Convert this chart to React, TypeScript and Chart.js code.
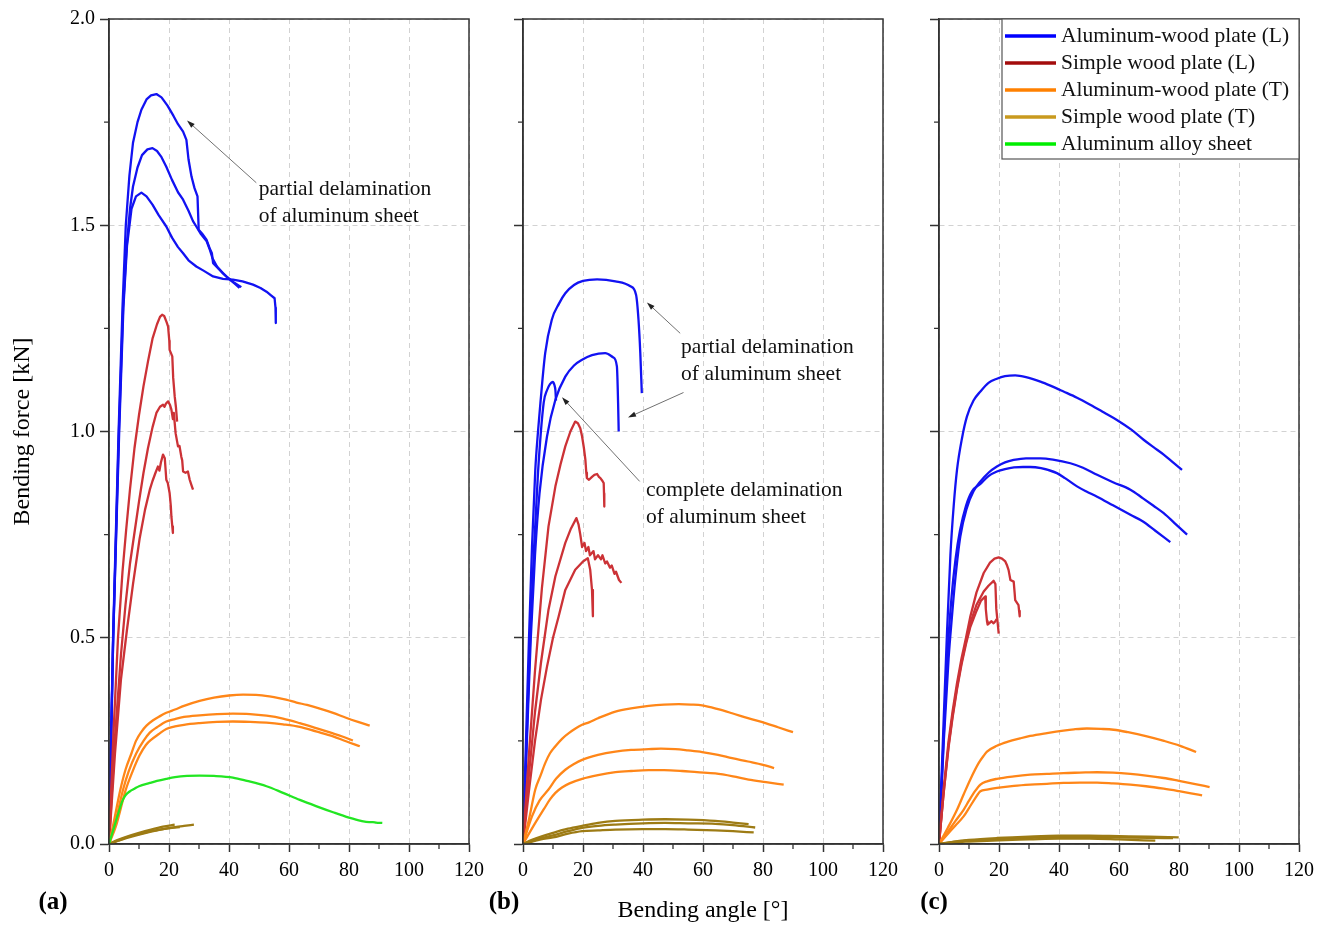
import React, { useEffect, useRef } from "react";
import { Chart, registerables } from "chart.js";
Chart.register(...registerables);

type Pt = [number, number];

// ---------- axes ----------
const X_TICKS = [0, 20, 40, 60, 80, 100, 120];
const X_TICK_LABELS = ["0", "20", "40", "60", "80", "100", "120"];
const X_MINOR = [10, 30, 50, 70, 90, 110];
const Y_TICKS = [0, 0.5, 1.0, 1.5, 2.0];
const Y_TICK_LABELS = ["0.0", "0.5", "1.0", "1.5", "2.0"];
const Y_MINOR = [0.25, 0.75, 1.25, 1.75];

const Y_TITLE = "Bending force [kN]";
const X_TITLE = "Bending angle [\u00b0]";
const PANEL_TAGS = ["(a)", "(b)", "(c)"];

const LEGEND_LABELS = [
  "Aluminum-wood plate (L)",
  "Simple wood plate (L)",
  "Aluminum-wood plate (T)",
  "Simple wood plate (T)",
  "Aluminum alloy sheet",
];
const LEGEND_COLORS = ["#0000ff", "#a30c0c", "#ff8000", "#c99a1e", "#00ee00"];

// ---------- panel (a) ----------
const a_awL_1: Pt[] = [[0,0],[1.35,0.5],[3.2,1.0],[4.5,1.3],[5.6,1.5],[6.8,1.62],[8,1.7],[9.5,1.75],[10.8,1.78],[12.5,1.805],[14,1.815],[15.8,1.818],[17.5,1.81],[19.5,1.79],[21.5,1.765],[23,1.745],[24.7,1.727],[25.8,1.707],[26.5,1.66],[27.5,1.618],[28.5,1.59],[29.5,1.57],[29.9,1.489],[31,1.48],[32.5,1.465],[33.5,1.445],[34.3,1.432],[34.7,1.408],[36.5,1.395],[39.1,1.376],[41.5,1.362],[44.1,1.35]];
const a_awL_2: Pt[] = [[0,0],[1.4,0.5],[3.3,1.0],[4.7,1.3],[5.9,1.45],[7,1.54],[8,1.594],[9.5,1.64],[11,1.67],[12.8,1.684],[14.5,1.687],[16,1.68],[17.5,1.665],[19.1,1.642],[21,1.61],[23,1.58],[24.7,1.562],[26.5,1.535],[28,1.51],[29.1,1.497],[30.5,1.48],[32.5,1.462],[33.5,1.443],[34.5,1.42],[36,1.4],[38,1.383],[40,1.37],[42,1.358],[43.5,1.348]];
const a_awL_3: Pt[] = [[0,0],[1.4,0.5],[3.4,1.0],[4.8,1.3],[6,1.45],[7.5,1.54],[9,1.57],[10.8,1.579],[12.5,1.57],[14.5,1.55],[16.5,1.525],[19.1,1.497],[21,1.47],[23,1.447],[24.7,1.432],[26.5,1.415],[29.1,1.4],[31.5,1.39],[34.7,1.376],[38,1.37],[41.3,1.368],[44.5,1.364],[48,1.356],[50.5,1.348],[52.5,1.339],[54,1.33],[55.2,1.323],[55.5,1.3],[55.6,1.263]];
const a_swL_1: Pt[] = [[0,0],[1.5,0.27],[3,0.5],[4.5,0.66],[5.7,0.76],[7,0.86],[8.5,0.96],[10,1.04],[11.5,1.11],[13,1.17],[14.5,1.225],[16,1.26],[17,1.278],[17.7,1.283],[18.4,1.28],[19.2,1.265],[19.7,1.254],[20.1,1.22],[20.2,1.198],[21.1,1.182],[21.4,1.13],[21.9,1.085],[22.3,1.06],[22.7,1.024]];
const a_swL_2: Pt[] = [[0,0],[2,0.26],[4,0.46],[5.5,0.58],[7,0.68],[8.6,0.76],[10,0.83],[11.5,0.9],[13,0.96],[14.5,1.01],[15.8,1.045],[17,1.06],[18,1.065],[18.5,1.06],[19,1.068],[19.7,1.073],[20.3,1.065],[20.8,1.053],[21.3,1.03],[21.6,1.045],[22.2,0.996],[23,0.964],[23.5,0.965],[24.1,0.939],[24.4,0.93],[24.7,0.903],[25.5,0.9],[26.3,0.903],[26.9,0.883],[27.4,0.872],[28,0.859]];
const a_swL_3: Pt[] = [[0,0],[2,0.22],[4,0.4],[6,0.52],[8,0.63],[10.2,0.74],[12,0.81],[13.6,0.859],[14.5,0.88],[15.5,0.9],[16.3,0.915],[16.8,0.905],[17.3,0.925],[18,0.944],[18.6,0.935],[19.1,0.883],[19.6,0.875],[20.2,0.851],[20.6,0.82],[20.8,0.794],[21.1,0.77],[21.3,0.754]];
const a_awT_1: Pt[] = [[0,0],[1.3,0.043],[3.8,0.132],[5.5,0.18],[7.5,0.22],[9,0.25],[10.8,0.272],[12.5,0.287],[14.7,0.3],[17,0.31],[19.1,0.318],[22,0.326],[25,0.335],[30.2,0.347],[35,0.355],[40,0.36],[44.7,0.362],[50,0.361],[55,0.356],[59,0.35],[62.5,0.343],[66,0.337],[70,0.329],[74.7,0.318],[79,0.306],[83,0.296],[86.9,0.287]];
const a_awT_2: Pt[] = [[0,0],[1.8,0.043],[4.7,0.132],[6.5,0.175],[9.1,0.22],[11.5,0.25],[13.6,0.27],[16,0.283],[19.1,0.297],[22,0.303],[25,0.308],[30.2,0.312],[36,0.315],[41.3,0.316],[47,0.315],[52.5,0.311],[58,0.304],[63.6,0.293],[69,0.281],[74.7,0.268],[78,0.26],[81.3,0.251]];
const a_awT_3: Pt[] = [[0,0],[2.3,0.043],[5.6,0.132],[7.8,0.175],[10.2,0.215],[12.3,0.24],[14.1,0.253],[16.5,0.266],[19.1,0.279],[22,0.285],[25,0.289],[30.2,0.293],[36,0.296],[41.3,0.297],[47,0.296],[52.5,0.294],[58,0.29],[63.6,0.284],[69,0.273],[74.7,0.261],[79,0.249],[83.6,0.237]];
const a_swT_1: Pt[] = [[0,0],[3,0.01],[6,0.018],[10,0.027],[14,0.035],[18,0.042],[21.9,0.047]];
const a_swT_2: Pt[] = [[0,0],[3,0.008],[6,0.016],[10,0.024],[14,0.031],[18,0.036],[21,0.039],[23.6,0.041]];
const a_swT_3: Pt[] = [[0,0],[3,0.008],[6,0.015],[10,0.023],[14,0.03],[18,0.036],[22,0.041],[25,0.044],[28.3,0.047]];
const a_al_1: Pt[] = [[0,0],[2.5,0.06],[4.5,0.105],[5.5,0.118],[7,0.128],[8.5,0.134],[10,0.14],[13.6,0.148],[16,0.153],[19.1,0.158],[22,0.162],[26,0.165],[30.2,0.166],[35,0.165],[41.3,0.161],[46,0.153],[52.5,0.14],[58,0.124],[63.6,0.107],[69,0.092],[74.7,0.077],[80,0.064],[84,0.056],[86.7,0.053],[88,0.053],[89,0.052],[91.1,0.051]];

// ---------- panel (b) ----------
const b_awL_1: Pt[] = [[0,0],[1,0.25],[2,0.5],[3,0.72],[4.1,0.907],[5,1.0],[5.8,1.069],[7.4,1.19],[9.6,1.271],[12,1.31],[14.1,1.335],[17,1.355],[20,1.365],[24.7,1.369],[30.8,1.364],[35.8,1.352],[37.7,1.331],[38.5,1.271],[39.1,1.19],[39.6,1.093]];
const b_awL_2: Pt[] = [[0,0],[1.3,0.25],[2.6,0.5],[4,0.7],[5.5,0.85],[8,0.988],[10.8,1.077],[14.1,1.133],[17,1.16],[19.7,1.174],[23,1.185],[27.4,1.19],[30,1.18],[31.3,1.158],[31.7,1.069],[31.9,1.0]];
const b_awL_3: Pt[] = [[0,0],[1.2,0.25],[2.4,0.5],[3.7,0.72],[5,0.9],[6.9,1.07],[8,1.1],[9,1.115],[9.9,1.12],[10.5,1.112],[10.8,1.1],[11,1.075]];
const b_swL_1: Pt[] = [[0,0],[2,0.22],[4,0.42],[6.3,0.62],[8.5,0.77],[10.8,0.867],[12.5,0.92],[14.1,0.964],[15.8,1.0],[17.4,1.024],[18.3,1.02],[19.1,1.008],[19.7,0.988],[20.3,0.96],[20.8,0.931],[21.1,0.9],[21.3,0.887],[22,0.883],[23,0.89],[23.8,0.895],[24.7,0.897],[25.3,0.89],[25.8,0.887],[26.5,0.88],[26.9,0.875],[27,0.85],[27.1,0.818]];
const b_swL_2: Pt[] = [[0,0],[2,0.17],[4,0.32],[6,0.44],[8.5,0.568],[10.8,0.649],[14.1,0.73],[16,0.765],[17.8,0.79],[18.5,0.775],[19.1,0.75],[19.7,0.72],[20.5,0.73],[21,0.71],[21.8,0.72],[22.3,0.7],[23.5,0.71],[24,0.69],[25,0.7],[26,0.69],[26.5,0.7],[27.4,0.68],[28,0.685],[29,0.67],[29.6,0.675],[30.5,0.655],[31,0.66],[32,0.64],[32.8,0.633]];
const b_swL_3: Pt[] = [[0,0],[2,0.13],[4,0.25],[6,0.35],[8,0.43],[10,0.5],[11.9,0.552],[14.1,0.616],[17.4,0.665],[20,0.685],[21.6,0.693],[22.4,0.665],[23,0.616],[23.3,0.552]];
const b_awT_1: Pt[] = [[0,0],[2,0.06],[4.1,0.132],[5.8,0.165],[7.4,0.196],[9,0.22],[10.8,0.237],[13,0.255],[15.5,0.27],[17.5,0.28],[19.7,0.289],[22,0.295],[25,0.305],[30.8,0.321],[36,0.329],[41.9,0.335],[47,0.338],[51.9,0.339],[56,0.338],[59.7,0.336],[65,0.327],[69.7,0.317],[75,0.305],[80.8,0.293],[85,0.283],[90,0.271]];
const b_awT_2: Pt[] = [[0,0],[3,0.067],[5.5,0.105],[8.5,0.132],[11,0.158],[14.1,0.18],[17,0.194],[19.7,0.204],[25,0.216],[30.8,0.224],[36,0.228],[41.9,0.23],[46,0.231],[50.8,0.23],[55,0.227],[59.7,0.223],[65,0.216],[69.7,0.208],[75,0.2],[80,0.192],[83.7,0.184]];
const b_awT_3: Pt[] = [[0,0],[4.1,0.051],[7,0.085],[9,0.108],[10.8,0.124],[13,0.137],[15.5,0.147],[19.7,0.158],[25,0.167],[30.8,0.174],[36,0.177],[41.9,0.179],[47,0.179],[53,0.177],[58,0.174],[64.1,0.171],[70,0.164],[75.2,0.156],[81,0.15],[86.9,0.144]];
const b_swT_1: Pt[] = [[0,0],[3,0.01],[6,0.018],[10,0.027],[15,0.037],[19.7,0.044],[25,0.051],[30.8,0.056],[40,0.059],[47.4,0.06],[55,0.059],[64.1,0.056],[70,0.052],[75.2,0.048]];
const b_swT_2: Pt[] = [[0,0],[3,0.007],[6,0.014],[10,0.021],[15,0.031],[19.7,0.039],[25,0.044],[30.8,0.047],[40,0.05],[47.4,0.051],[55,0.05],[64.1,0.049],[70,0.046],[77.4,0.04]];
const b_swT_3: Pt[] = [[0,0],[3,0.006],[6,0.011],[10,0.016],[15,0.025],[19.7,0.031],[25,0.033],[30.8,0.035],[40,0.036],[47.4,0.036],[55,0.035],[64.1,0.033],[70,0.031],[76.9,0.028]];

// ---------- panel (c) ----------
const c_awL_1: Pt[] = [[0,0],[1.3,0.25],[2.6,0.5],[3.8,0.7],[4.9,0.82],[6,0.907],[7.7,0.985],[9.3,1.036],[11.5,1.075],[13.8,1.097],[16.5,1.118],[19.3,1.128],[22,1.134],[25.4,1.136],[29,1.132],[33.8,1.121],[37.5,1.11],[41.5,1.097],[46,1.082],[50.4,1.065],[55,1.046],[59.3,1.028],[64,1.005],[68.2,0.98],[71.5,0.962],[74.9,0.944],[78,0.925],[81,0.907]];
const c_awL_2: Pt[] = [[0,0],[1.6,0.25],[3.2,0.45],[4.3,0.55],[5.4,0.64],[7.1,0.745],[9.3,0.815],[11.5,0.855],[13.8,0.879],[16.5,0.9],[19.3,0.915],[22,0.925],[24.9,0.931],[29,0.935],[33.8,0.935],[38,0.932],[43.8,0.923],[48,0.912],[52.7,0.895],[58,0.877],[63.8,0.859],[68,0.838],[71.5,0.82],[74.9,0.802],[78.5,0.778],[82.7,0.75]];
const c_awL_3: Pt[] = [[0,0],[1.5,0.25],[3,0.48],[4.2,0.6],[5.5,0.69],[7,0.76],[9,0.82],[11,0.855],[13.8,0.873],[16.5,0.892],[19.3,0.903],[22,0.909],[25,0.913],[28,0.914],[30.4,0.914],[34,0.911],[39.3,0.899],[42,0.887],[46,0.867],[49,0.855],[52.7,0.842],[58,0.821],[63.8,0.798],[68,0.782],[72,0.76],[77.1,0.732]];
const c_swL_1: Pt[] = [[0,0],[1.5,0.13],[3.2,0.25],[4.5,0.32],[6,0.39],[7.5,0.45],[9,0.5],[10.4,0.55],[12.5,0.61],[14.9,0.657],[17,0.682],[18.5,0.692],[19.9,0.695],[21,0.692],[22.1,0.685],[22.7,0.675],[23.2,0.664],[23.8,0.64],[24.9,0.636],[25.2,0.61],[25.4,0.591],[26.5,0.579],[26.7,0.565],[26.9,0.552]];
const c_swL_2: Pt[] = [[0,0],[1.5,0.12],[3.2,0.24],[4.5,0.31],[6,0.38],[7.5,0.44],[9,0.49],[10.4,0.535],[12.5,0.58],[14.9,0.612],[16.5,0.626],[18.2,0.638],[18.8,0.63],[19.1,0.57],[19.5,0.54],[19.9,0.51]];
const c_swL_3: Pt[] = [[0,0],[1.5,0.12],[3.2,0.235],[4.5,0.305],[6,0.375],[7.5,0.435],[9,0.485],[10.4,0.525],[12.5,0.565],[14,0.59],[15.4,0.6],[15.6,0.57],[16,0.54],[16.2,0.532],[17.5,0.54],[18.2,0.535],[18.8,0.54],[19.2,0.545]];
const c_awT_1: Pt[] = [[0,0],[3,0.04],[6,0.083],[8.2,0.12],[10.4,0.156],[13.2,0.196],[15,0.215],[16,0.224],[19.3,0.238],[23,0.248],[27,0.256],[30.4,0.262],[36,0.269],[41.5,0.275],[45,0.278],[49.3,0.28],[54,0.279],[58.2,0.277],[63,0.271],[69.3,0.261],[75,0.25],[80.4,0.238],[85.7,0.223]];
const c_awT_2: Pt[] = [[0,0],[3,0.03],[5.5,0.056],[8.2,0.083],[10,0.105],[12,0.128],[13.8,0.144],[16,0.152],[19.3,0.158],[25,0.164],[30.4,0.168],[36,0.17],[41.5,0.172],[47,0.173],[52.7,0.174],[58,0.173],[63.8,0.17],[69,0.166],[74.9,0.16],[80,0.153],[85,0.146],[90.2,0.138]];
const c_awT_3: Pt[] = [[0,0],[3,0.025],[5.5,0.045],[8.2,0.067],[10,0.087],[12,0.11],[13.8,0.128],[16,0.132],[19.3,0.136],[25,0.141],[30.4,0.144],[36,0.146],[41.5,0.148],[47,0.149],[52.7,0.149],[58,0.147],[63.8,0.144],[69,0.14],[74.9,0.134],[80,0.128],[84,0.123],[87.7,0.118]];
const c_swT_1: Pt[] = [[0,0],[5,0.006],[10,0.01],[19.3,0.0145],[30,0.018],[40,0.02],[50,0.02],[60,0.019],[70,0.018],[79.9,0.016]];
const c_swT_2: Pt[] = [[0,0],[5,0.004],[10,0.006],[20,0.009],[30,0.011],[40,0.013],[50,0.013],[60,0.011],[72.1,0.008]];
const c_swT_3: Pt[] = [[0,0],[5,0.005],[10,0.008],[20,0.012],[30,0.015],[40,0.017],[50,0.017],[60,0.016],[70,0.015],[78,0.014]];

// ---------- annotations (data coordinates) ----------
const NOTES: Record<string, { arrows: { from: Pt; to: Pt }[]; texts: { at: Pt; lines: string[] }[] }> = {
  a: {
    arrows: [{ from: [49.1, 1.603], to: [26.0, 1.754] }],
    texts: [{ at: [49.9, 1.586], lines: ["partial delamination", "of aluminum sheet"] }],
  },
  b: {
    arrows: [
      { from: [52.4, 1.238], to: [41.3, 1.313] },
      { from: [53.5, 1.0945], to: [35.0, 1.034] },
      { from: [38.9, 0.879], to: [13.0, 1.083] },
    ],
    texts: [
      { at: [52.7, 1.2045], lines: ["partial delamination", "of aluminum sheet"] },
      { at: [41.0, 0.857], lines: ["complete delamination", "of aluminum sheet"] },
    ],
  },
  c: { arrows: [], texts: [] },
};

// ---------- styling ----------
const CURVE_COLORS: Record<string, string> = {
  awL: "#1212f2",
  swL: "#cc3236",
  awT: "#ff8618",
  swT: "#9d7b14",
  al: "#22e622",
};
const SERIF = '"Liberation Serif", "Times New Roman", serif';

type Group = { key: string; curves: Pt[][]; jagged?: boolean };
type Panel = { id: string; left: number; right: number; yWidth: number; groups: Group[]; showYLabels: boolean; showXTitle: boolean; legend: boolean };

const TOP = 19;
const BOTTOM = 844;
const W = 1328;
const H = 926;

const PANELS: Panel[] = [
  {
    id: "a", left: 109, right: 469, yWidth: 109, showYLabels: true, showXTitle: false, legend: false,
    groups: [
      { key: "al", curves: [a_al_1] },
      { key: "swT", curves: [a_swT_1, a_swT_2, a_swT_3] },
      { key: "awT", curves: [a_awT_1, a_awT_2, a_awT_3] },
      { key: "swL", curves: [a_swL_1, a_swL_2, a_swL_3], jagged: true },
      { key: "awL", curves: [a_awL_1, a_awL_2, a_awL_3], jagged: true },
    ],
  },
  {
    id: "b", left: 523, right: 883, yWidth: 43, showYLabels: false, showXTitle: true, legend: false,
    groups: [
      { key: "swT", curves: [b_swT_1, b_swT_2, b_swT_3] },
      { key: "awT", curves: [b_awT_1, b_awT_2, b_awT_3] },
      { key: "swL", curves: [b_swL_1, b_swL_2, b_swL_3], jagged: true },
      { key: "awL", curves: [b_awL_1, b_awL_2, b_awL_3] },
    ],
  },
  {
    id: "c", left: 939, right: 1299, yWidth: 43, showYLabels: false, showXTitle: false, legend: true,
    groups: [
      { key: "swT", curves: [c_swT_1, c_swT_2, c_swT_3] },
      { key: "awT", curves: [c_awT_1, c_awT_2, c_awT_3] },
      { key: "swL", curves: [c_swL_1, c_swL_2, c_swL_3], jagged: true },
      { key: "awL", curves: [c_awL_1, c_awL_2, c_awL_3] },
    ],
  },
];

const TAG_POS = [
  { x: 53, y: 900 },
  { x: 504, y: 900 },
  { x: 934, y: 900 },
];

// ---------- plugins ----------
const framePlugin = {
  id: "frame",
  afterDraw(chart: any) {
    const { ctx, chartArea } = chart;
    const { left, right, top, bottom } = chartArea;
    const xs = chart.scales.x;
    const ys = chart.scales.y;
    ctx.save();
    ctx.strokeStyle = "#333";
    ctx.lineWidth = 1.5;
    ctx.strokeRect(left, top, right - left, bottom - top);
    ctx.lineWidth = 1.3;
    ctx.beginPath();
    for (const v of X_MINOR) {
      const px = xs.getPixelForValue(v);
      ctx.moveTo(px, bottom);
      ctx.lineTo(px, bottom + 5);
    }
    for (const v of Y_MINOR) {
      const py = ys.getPixelForValue(v);
      ctx.moveTo(left, py);
      ctx.lineTo(left - 5, py);
    }
    ctx.stroke();
    ctx.restore();
  },
};

const notesPlugin = {
  id: "notes",
  afterDatasetsDraw(chart: any, _args: any, opts: any) {
    const n = NOTES[opts.panel];
    if (!n) return;
    const xs = chart.scales.x;
    const ys = chart.scales.y;
    const P = (p: Pt) => [xs.getPixelForValue(p[0]), ys.getPixelForValue(p[1])];
    const ctx = chart.ctx;
    ctx.save();
    for (const a of n.arrows) {
      const [x1, y1] = P(a.from);
      const [x2, y2] = P(a.to);
      const ang = Math.atan2(y2 - y1, x2 - x1);
      const c = Math.cos(ang), s = Math.sin(ang);
      ctx.strokeStyle = "#707070";
      ctx.lineWidth = 1;
      ctx.beginPath();
      ctx.moveTo(x1, y1);
      ctx.lineTo(x2 - 5 * c, y2 - 5 * s);
      ctx.stroke();
      ctx.fillStyle = "#222";
      ctx.beginPath();
      ctx.moveTo(x2, y2);
      ctx.lineTo(x2 - 8 * c + 2.6 * s, y2 - 8 * s - 2.6 * c);
      ctx.lineTo(x2 - 8 * c - 2.6 * s, y2 - 8 * s + 2.6 * c);
      ctx.closePath();
      ctx.fill();
    }
    ctx.fillStyle = "#111";
    ctx.font = `21.5px ${SERIF}`;
    ctx.textAlign = "left";
    ctx.textBaseline = "middle";
    for (const t of n.texts) {
      const [x, y] = P(t.at);
      t.lines.forEach((ln, i) => ctx.fillText(ln, x, y + i * 27));
    }
    ctx.restore();
  },
};

const boxLegendPlugin = {
  id: "boxLegend",
  afterDraw(chart: any, _args: any, opts: any) {
    if (!opts.show) return;
    const { ctx, chartArea } = chart;
    const w = 297;
    const h = 140;
    const x0 = chartArea.right - w;
    const y0 = chartArea.top;
    ctx.save();
    ctx.fillStyle = "#fff";
    ctx.fillRect(x0, y0, w, h);
    ctx.strokeStyle = "#555";
    ctx.lineWidth = 1.2;
    ctx.strokeRect(x0, y0, w, h);
    ctx.font = `21.5px ${SERIF}`;
    ctx.textBaseline = "middle";
    ctx.textAlign = "left";
    LEGEND_LABELS.forEach((lab, i) => {
      const cy = y0 + 17 + i * 27;
      ctx.strokeStyle = LEGEND_COLORS[i];
      ctx.lineWidth = 3.5;
      ctx.beginPath();
      ctx.moveTo(x0 + 3, cy);
      ctx.lineTo(x0 + 54, cy);
      ctx.stroke();
      ctx.fillStyle = "#111";
      ctx.fillText(lab, x0 + 59, cy);
    });
    ctx.restore();
  },
};

function makeConfig(p: Panel): any {
  const datasets: any[] = [];
  p.groups.forEach((g) => {
    g.curves.forEach((c) => {
      datasets.push({
        data: c.map(([x, y]) => ({ x, y })),
        borderColor: CURVE_COLORS[g.key],
        backgroundColor: CURVE_COLORS[g.key],
        borderWidth: 2.3,
        pointRadius: 0,
        showLine: true,
        fill: false,
        tension: 0,
        cubicInterpolationMode: g.jagged ? "default" : "monotone",
        borderJoinStyle: "round",
        borderCapStyle: "butt",
      });
    });
  });
  const tickFont = { family: SERIF, size: 20 };
  return {
    type: "scatter",
    data: { datasets },
    plugins: [framePlugin, notesPlugin, boxLegendPlugin],
    options: {
      responsive: false,
      animation: false,
      events: [],
      layout: { padding: { left: p.left - p.yWidth, right: W - p.right, top: TOP, bottom: 0 } },
      plugins: {
        legend: { display: false },
        tooltip: { enabled: false },
        notes: { panel: p.id },
        boxLegend: { show: p.legend },
      },
      scales: {
        x: {
          type: "linear",
          min: 0,
          max: 120,
          afterFit: (s: any) => { s.height = H - BOTTOM; },
          afterBuildTicks: (s: any) => { s.ticks = X_TICKS.map((v) => ({ value: v })); },
          ticks: {
            color: "#000",
            font: tickFont,
            padding: 7,
            maxRotation: 0,
            autoSkip: false,
            callback: (v: number) => X_TICK_LABELS[X_TICKS.indexOf(v)] ?? "",
          },
          grid: { color: "#d2d2d2", lineWidth: 1, tickColor: "#333", tickWidth: 1.5, tickLength: 8 },
          border: { display: true, color: "#333", width: 1.5, dash: [5, 4] },
          title: {
            display: p.showXTitle,
            text: X_TITLE,
            color: "#000",
            font: { family: SERIF, size: 24, lineHeight: 1.2 },
            padding: { top: 0, bottom: 1 },
          },
        },
        y: {
          type: "linear",
          min: 0,
          max: 2,
          afterFit: (s: any) => { s.width = p.yWidth; },
          afterBuildTicks: (s: any) => { s.ticks = Y_TICKS.map((v) => ({ value: v })); },
          ticks: {
            color: "#000",
            font: tickFont,
            padding: 5,
            autoSkip: false,
            callback: (v: number) => (p.showYLabels ? Y_TICK_LABELS[Y_TICKS.indexOf(v)] ?? "" : ""),
          },
          grid: { color: "#d2d2d2", lineWidth: 1, tickColor: "#333", tickWidth: 1.5, tickLength: 9 },
          border: { display: true, color: "#333", width: 1.5, dash: [5, 4] },
          title: {
            display: p.showYLabels,
            text: Y_TITLE,
            color: "#000",
            font: { family: SERIF, size: 24, lineHeight: 1.2 },
            padding: { top: 8, bottom: 0 },
          },
        },
      },
    },
  };
}

export default function App() {
  const refs = useRef<(HTMLCanvasElement | null)[]>([]);
  useEffect(() => {
    const charts = PANELS.map((p, i) => new Chart(refs.current[i] as HTMLCanvasElement, makeConfig(p)));
    return () => charts.forEach((c) => c.destroy());
  }, []);
  return (
    <div style={{ position: "absolute", left: 0, top: 0, width: W, height: H, background: "#fff", overflow: "hidden" }}>
      {PANELS.map((p, i) => (
        <canvas
          key={p.id}
          ref={(el) => { refs.current[i] = el; }}
          width={W}
          height={H}
          style={{ position: "absolute", left: 0, top: 0, width: W, height: H }}
        />
      ))}
      {PANEL_TAGS.map((t, i) => (
        <div
          key={t}
          style={{
            position: "absolute",
            left: TAG_POS[i].x,
            top: TAG_POS[i].y,
            transform: "translate(-50%, -50%)",
            fontFamily: SERIF,
            fontWeight: "bold",
            fontSize: 25,
            lineHeight: "25px",
            color: "#000",
            whiteSpace: "nowrap",
          }}
        >
          {t}
        </div>
      ))}
    </div>
  );
}
